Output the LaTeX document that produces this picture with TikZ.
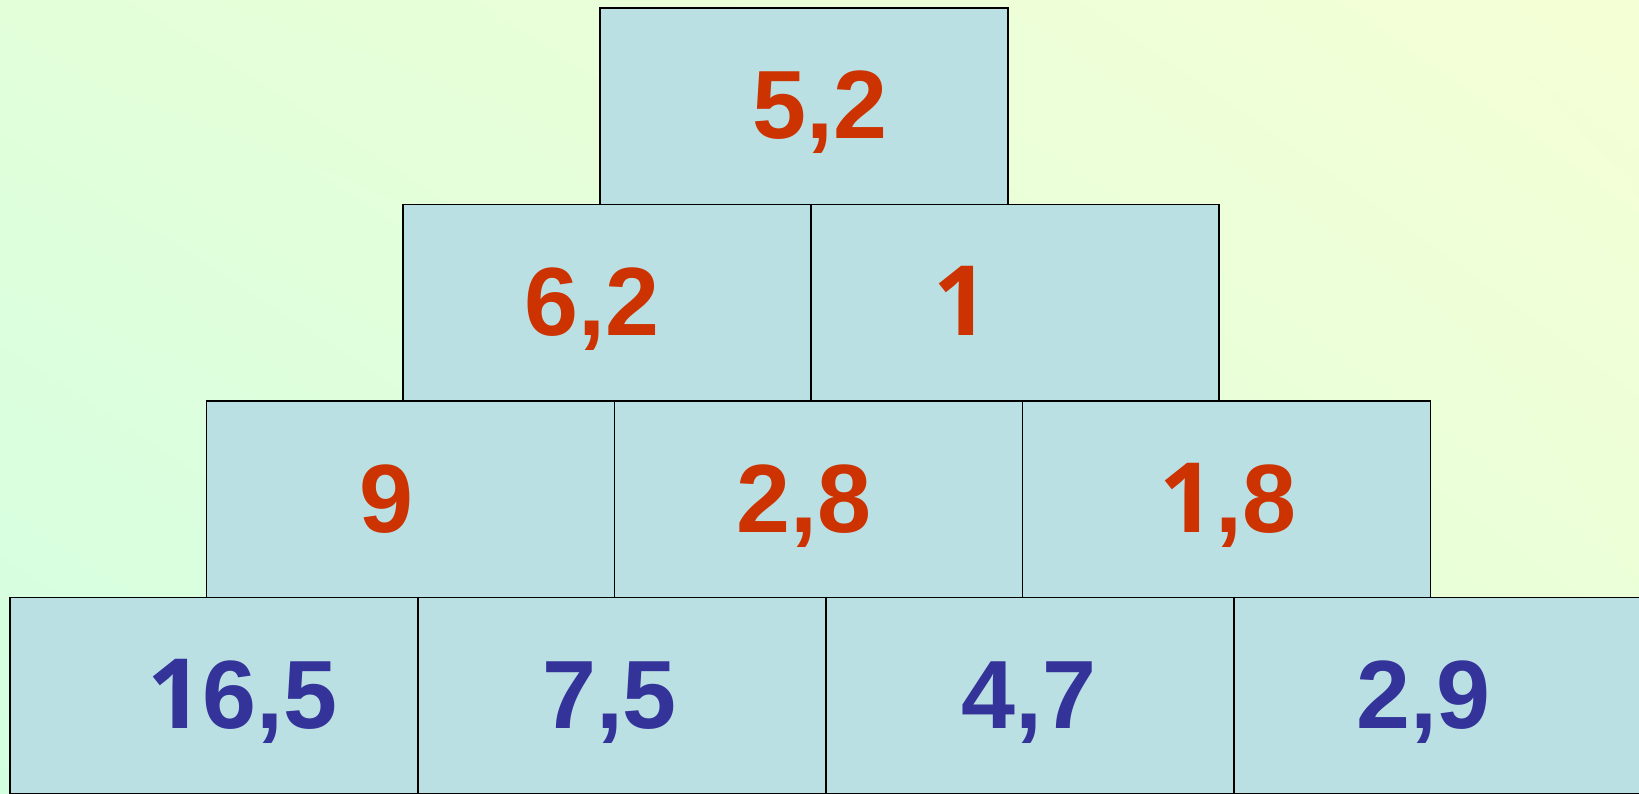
\documentclass[tikz,border=0pt]{standalone}
\usepackage{fontspec}
\setmainfont{Liberation Sans}
\newfontfamily\onefont{Open Sans}
\newcommand{\one}{{\onefont 1}}
\usetikzlibrary{shadings}
\definecolor{boxfill}{HTML}{BBE0E3}
\definecolor{numred}{HTML}{CC3300}
\definecolor{numblue}{HTML}{333399}
\definecolor{bgll}{HTML}{D3FFE1}
\definecolor{bgul}{HTML}{E2FFDA}
\definecolor{bglr}{HTML}{E8FFD8}
\definecolor{bgur}{HTML}{F5FFD6}
\tikzset{
  cell/.style={draw=black, line width=1.5pt, fill=boxfill, minimum width=408pt, minimum height=196.6pt, inner sep=0pt, anchor=north west},
  num/.style={anchor=base, inner sep=0pt, font=\fontsize{97}{100}\selectfont\bfseries},
  rednum/.style={num, text=numred},
  bluenum/.style={num, text=numblue}
}
\begin{document}
\begin{tikzpicture}[x=1pt,y=-1pt]
\useasboundingbox (0,0) rectangle (1639,793);
\shade[upper left=bgul, upper right=bgur, lower left=bgll, lower right=bglr] (0,0) rectangle (1639,793);
% row 1
\node[cell] (a1) at (599,7) {};
% row 2
\node[cell] (b1) at (402.3,203.6) {};
\node[cell] (b2) at (810.3,203.6) {};
% row 3
\node[cell] (c1) at (205.6,400.2) {};
\node[cell] (c2) at (613.6,400.2) {};
\node[cell] (c3) at (1021.6,400.2) {};
% row 4
\node[cell] (d1) at (9,596.8) {};
\node[cell] (d2) at (417,596.8) {};
\node[cell] (d3) at (825,596.8) {};
\node[cell] (d4) at (1233,596.8) {};
% numbers
\node[rednum] (ta1) at (820,138.8) {5,2};
\node[rednum] (tb1) at (592,335.4) {6,2};
\node[rednum] (tb2) at (961,335.4) {\one};
\node[rednum] (tc1) at (386,532) {9};
\node[rednum] (tc2) at (804,532) {2,8};
\node[rednum] (tc3) at (1228,532) {\one,8};
\node[bluenum] (td1) at (242.5,728.6) {\one6,5};
\node[bluenum] (td2) at (609.5,728.6) {7,5};
\node[bluenum] (td3) at (1029,728.6) {4,7};
\node[bluenum] (td4) at (1423.5,728.6) {2,9};
\end{tikzpicture}
\end{document}
